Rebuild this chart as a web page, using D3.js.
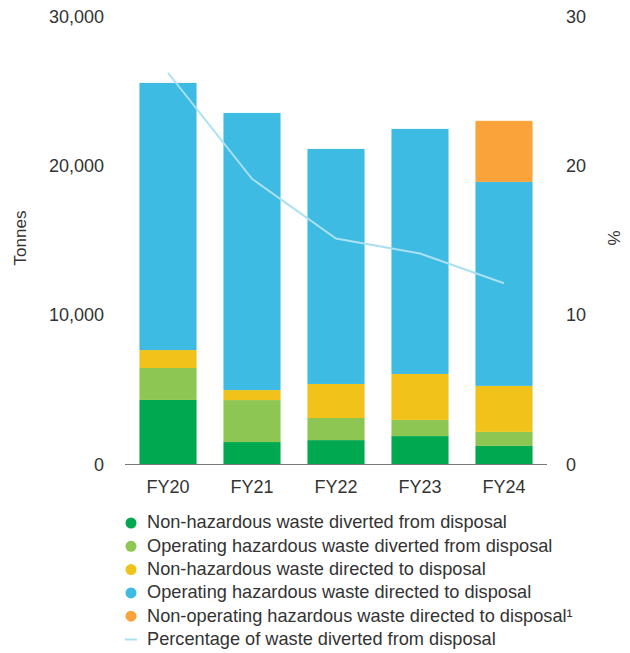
<!DOCTYPE html>
<html>
<head>
<meta charset="utf-8">
<script src="https://cdn.jsdelivr.net/npm/d3@7"></script>
<style>
  body { margin: 0; background: #fff; }
  svg text { font-family: "Liberation Sans", Arial, sans-serif; fill: #333; }
</style>
</head>
<body>
<svg id="chart" width="630" height="653"></svg>
<script>
// data
const years = ['FY20', 'FY21', 'FY22', 'FY23', 'FY24'];
const nonHazDiverted = [4290, 1470, 1600, 1870, 1210];
const opHazDiverted = [2140, 2810, 1480, 1080, 940];
const nonHazDirected = [1200, 670, 2280, 3080, 3080];
const opHazDirected = [17890, 18560, 15740, 16410, 13660];
const nonOpHazDirected = [0, 0, 0, 0, 4090];
const pctDiverted = [26.2, 19.1, 15.1, 14.1, 12.1];

const seriesNames = [
    'Non-hazardous waste diverted from disposal',
    'Operating hazardous waste diverted from disposal',
    'Non-hazardous waste directed to disposal',
    'Operating hazardous waste directed to disposal',
    'Non-operating hazardous waste directed to disposal\u00b9'
];
const lineName = 'Percentage of waste diverted from disposal';
const leftTicks = [0, 10000, 20000, 30000];
const rightTicks = [0, 10, 20, 30];

const colors = ['#00a94f', '#8dc653', '#f0c21a', '#3dbbe2', '#f9a33a'];
const lineColor = '#a9e0f2';

const svg = d3.select('#chart');
const y0 = 464, y1 = 16;

let rows = years.map(function(yr, i){
    return {year: yr, s0: nonHazDiverted[i], s1: opHazDiverted[i], s2: nonHazDirected[i],
            s3: opHazDirected[i], s4: nonOpHazDirected[i]};
});
const keys = ['s0', 's1', 's2', 's3', 's4'];
const stacked = d3.stack().keys(keys)(rows);

const x = d3.scaleBand().domain(years).range([126, 546]).paddingInner(0.32).paddingOuter(0.16);
const y = d3.scaleLinear().domain([0, 30000]).range([y0, y1]);
const yPct = d3.scaleLinear().domain([0, 30]).range([y0, y1]);

// bars
svg.append('g').selectAll('g')
   .data(stacked)
   .enter()
   .append('g')
   .attr('fill', function(d, i){return colors[i];})
   .selectAll('rect')
   .data(function(d){return d;})
   .enter()
   .append('rect')
   .attr('x', function(d){return x(d.data.year);})
   .attr('width', x.bandwidth())
   .attr('y', function(d){return y(d[1]);})
   .attr('height', function(d){return y(d[0]) - y(d[1]);});

// baseline
svg.append('line')
   .attr('x1', 125).attr('x2', 547)
   .attr('y1', y0 + 0.5).attr('y2', y0 + 0.5)
   .attr('stroke', '#777').attr('stroke-width', 1.2);

// left axis
const leftAxis = d3.axisLeft(y).tickValues(leftTicks).tickSize(0).tickPadding(0)
                   .tickFormat(d3.format(','));
const gl = svg.append('g').attr('transform', 'translate(104,0)').call(leftAxis);
gl.select('.domain').remove();
gl.selectAll('text').style('font-size', '18px').attr('fill', '#333').attr('dy', '0.35em');

// right axis
const rightAxis = d3.axisRight(yPct).tickValues(rightTicks).tickSize(0).tickPadding(0);
const gr = svg.append('g').attr('transform', 'translate(566,0)').call(rightAxis);
gr.select('.domain').remove();
gr.selectAll('text').style('font-size', '18px').attr('fill', '#333').attr('dy', '0.35em');

// bottom axis labels
const bottomAxis = d3.axisBottom(x).tickSize(0).tickPadding(0);
const gb = svg.append('g').attr('transform', 'translate(0,' + (y0 + 23) + ')').call(bottomAxis);
gb.select('.domain').remove();
gb.selectAll('text').style('font-size', '18px').attr('fill', '#333').attr('dy', '0.35em');

// axis titles
svg.append('text')
   .attr('transform', 'translate(26,238) rotate(-90)')
   .attr('text-anchor', 'middle')
   .style('font-size', '17px')
   .text('Tonnes');
svg.append('text')
   .attr('transform', 'translate(620,238) rotate(-90)')
   .attr('text-anchor', 'middle')
   .style('font-size', '17px')
   .text('%');

// line
const line = d3.line()
    .x(function(d, i){return x(years[i]) + x.bandwidth() / 2;})
    .y(function(d){return yPct(d);});
svg.append('path')
   .datum(pctDiverted)
   .attr('d', line)
   .attr('fill', 'none')
   .attr('stroke', lineColor)
   .attr('stroke-width', 2);

// legend
const legendTop = 522, legendStep = 23.3;
const legend = svg.append('g');
seriesNames.forEach(function(name, i){
    const ly = legendTop + i * legendStep;
    legend.append('circle')
          .attr('cx', 131).attr('cy', ly + 1).attr('r', 5.5)
          .attr('fill', colors[i]);
    legend.append('text')
          .attr('x', 147).attr('y', ly).attr('dy', '0.35em')
          .style('font-size', '18.2px')
          .text(name);
});
const lineY = legendTop + seriesNames.length * legendStep;
legend.append('line')
      .attr('x1', 125).attr('x2', 137)
      .attr('y1', lineY + 1).attr('y2', lineY + 1)
      .attr('stroke', lineColor).attr('stroke-width', 2);
legend.append('text')
      .attr('x', 147).attr('y', lineY).attr('dy', '0.35em')
      .style('font-size', '18.2px')
      .text(lineName);
</script>
</body>
</html>
